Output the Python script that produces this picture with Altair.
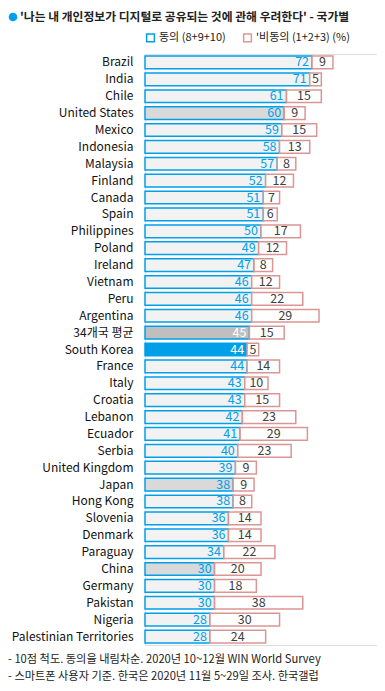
import altair as alt
import pandas as pd

countries = ["Brazil", "India", "Chile", "United States", "Mexico", "Indonesia", "Malaysia",
             "Finland", "Canada", "Spain", "Philippines", "Poland", "Ireland", "Vietnam", "Peru",
             "Argentina", "34개국 평균", "South Korea", "France", "Italy", "Croatia", "Lebanon",
             "Ecuador", "Serbia", "United Kingdom", "Japan", "Hong Kong", "Slovenia", "Denmark",
             "Paraguay", "China", "Germany", "Pakistan", "Nigeria", "Palestinian Territories"]
agree = [72, 71, 61, 60, 59, 58, 57, 52, 51, 51, 50, 49, 47, 46, 46, 46, 45, 44, 44, 43, 43,
         42, 41, 40, 39, 38, 38, 36, 36, 34, 30, 30, 30, 28, 28]
disagree = [9, 5, 15, 9, 15, 13, 8, 12, 7, 6, 17, 12, 8, 12, 22, 29, 15, 5, 14, 10, 15, 23,
            29, 23, 9, 9, 8, 14, 14, 22, 20, 18, 38, 30, 24]
series_names = ["동의 (8+9+10)", "'비동의 (1+2+3) (%)"]
grey_countries = ["United States", "Japan", "China"]
average_label = "34개국 평균"
korea_label = "South Korea"

title_text = "'나는 내 개인정보가 디지털로 공유되는 것에 관해 우려한다' - 국가별"
notes = ["- 10점 척도. 동의을 내림차순. 2020년 10~12월 WIN World Survey",
         "- 스마트폰 사용자 기준. 한국은 2020년 11월 5~29일 조사. 한국갤럽"]

FONT = "Noto Sans CJK KR"
BLUE = "#00a0e9"
PINK = "#da9694"

rows = []
for c, a, d in zip(countries, agree, disagree):
    rows.append({"country": c, "series": series_names[0], "s": 0, "start": 0, "end": a, "value": a})
    rows.append({"country": c, "series": series_names[1], "s": 1, "start": a, "end": a + d, "value": d})
df = pd.DataFrame(rows)

grey_expr = "indexof(" + str(grey_countries).replace("'", '"') + ", datum.country) >= 0"

y = alt.Y("country:N", sort=countries, title=None,
          scale=alt.Scale(paddingInner=0.25, paddingOuter=0.125),
          axis=alt.Axis(domain=False, ticks=False, labelPadding=12, labelFont=FONT,
                        labelFontSize=12, labelColor="#111111"))
xsc = alt.Scale(domain=[0, 100])

base = alt.Chart(df).transform_calculate(
    fillc=(f"datum.s == 1 ? 'white' : "
           f"(datum.country == '{korea_label}' ? '{BLUE}' : "
           f"(datum.country == '{average_label}' ? '#bfbfbf' : "
           f"({grey_expr} ? '#d9d9d9' : '#f2f2f2')))"),
    labc=(f"datum.s == 1 ? '#404040' : "
          f"((datum.country == '{korea_label}' || datum.country == '{average_label}') ? 'white' : '{BLUE}')"),
    mid="(datum.start + datum.end) / 2",
)

bars = base.mark_bar(strokeWidth=1.5).encode(
    y=y,
    x=alt.X("start:Q", scale=xsc, axis=None),
    x2="end:Q",
    fill=alt.Fill("fillc:N", scale=None),
    stroke=alt.Stroke("series:N", scale=alt.Scale(domain=series_names, range=[BLUE, PINK]),
                      legend=alt.Legend(title=None, orient="none", direction="horizontal",
                                        legendX=0, legendY=-22, symbolType="square",
                                        symbolFillColor="white", symbolStrokeWidth=1.5,
                                        symbolSize=60, labelFont=FONT, labelFontSize=11,
                                        labelColor="#222222", columnPadding=14,
                                        symbolOffset=0, labelOffset=3)),
)

agree_labels = base.transform_filter("datum.s == 0").mark_text(
    align="right", baseline="middle", dx=-3, font=FONT, fontSize=12.5).encode(
    y=y, x=alt.X("end:Q", scale=xsc), text="value:Q",
    color=alt.Color("labc:N", scale=None))

dis_labels = base.transform_filter("datum.s == 1").mark_text(
    align="center", baseline="middle", font=FONT, fontSize=12.5).encode(
    y=y, x=alt.X("mid:Q", scale=xsc), text="value:Q",
    color=alt.Color("labc:N", scale=None))

ann = pd.DataFrame({"t": [title_text]})
dot = alt.Chart(ann).mark_circle(size=75, color=BLUE, opacity=1).encode(
    x=alt.value(-132), y=alt.value(-37))
title = alt.Chart(ann).mark_text(align="left", baseline="middle", font=FONT, fontSize=11.8,
                                 fontWeight="bold", color="#222222").encode(
    x=alt.value(-125), y=alt.value(-37), text="t:N")

notes_df = pd.DataFrame({"t": notes, "i": [0, 1]})
note1 = alt.Chart(notes_df).transform_filter("datum.i == 0").mark_text(
    align="left", baseline="middle", font=FONT, fontSize=11.2, color="#222222").encode(
    x=alt.value(-137), y=alt.value(606), text="t:N")
note2 = alt.Chart(notes_df).transform_filter("datum.i == 1").mark_text(
    align="left", baseline="middle", font=FONT, fontSize=11.2, color="#222222").encode(
    x=alt.value(-137), y=alt.value(623), text="t:N")

chart = alt.layer(bars, agree_labels, dis_labels, dot, title, note1, note2).properties(
    width=232, height=591,
    padding={"left": 137, "top": 46, "right": 0, "bottom": 38},
    autosize=alt.AutoSizeParams(type="none"),
).configure_view(stroke=None).configure(background="white")

chart.save("out.html", embed_options={"renderer": "svg", "actions": False})
